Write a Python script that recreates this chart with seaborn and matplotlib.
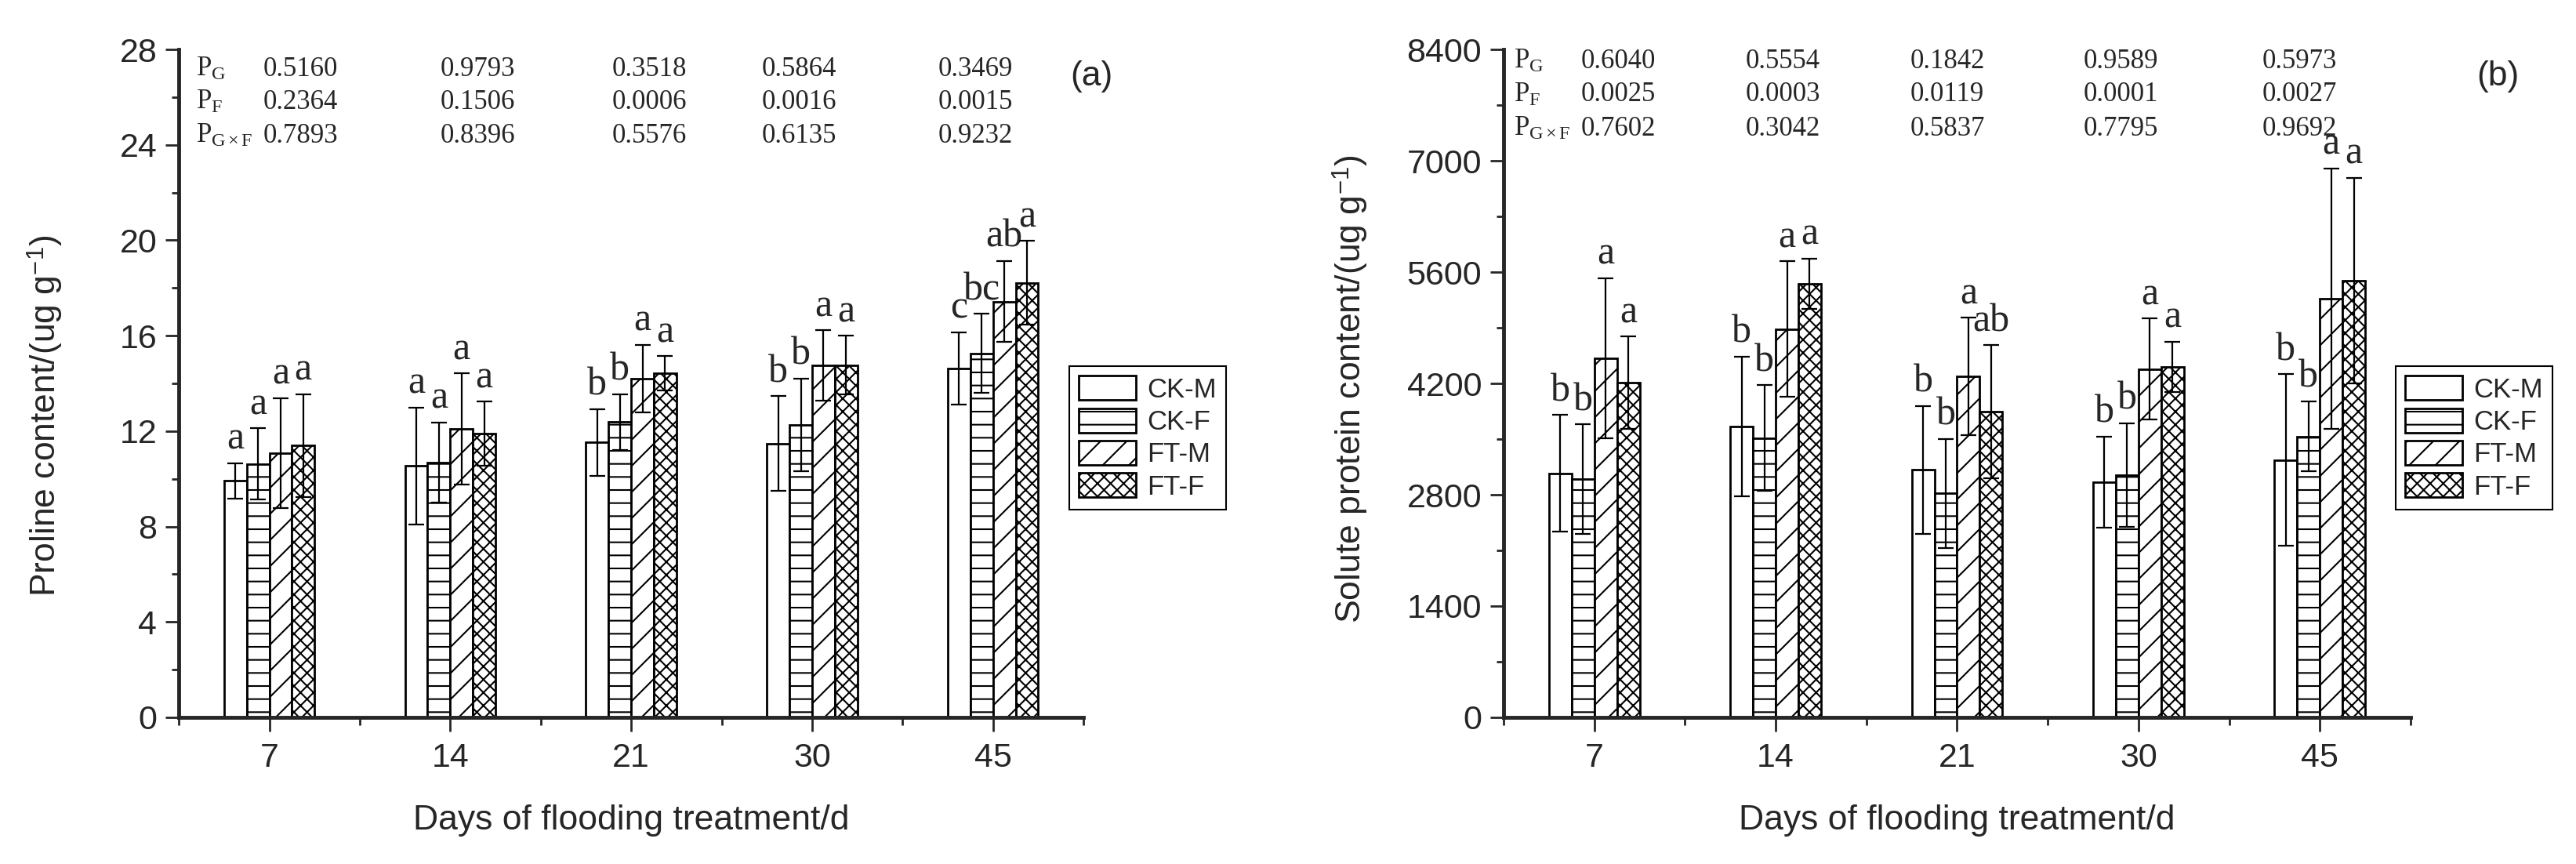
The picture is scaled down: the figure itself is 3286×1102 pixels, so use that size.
import numpy as np
import pandas as pd
import matplotlib
matplotlib.use('Agg')
import matplotlib.pyplot as plt
from matplotlib.patches import Patch
from matplotlib.ticker import MultipleLocator, FixedLocator
import seaborn as sns

# DATA

days = ['7', '14', '21', '30', '45']
groups = ['CK-M', 'CK-F', 'FT-M', 'FT-F']

# rows = groups, cols = days
proline_mean = [
    [9.91, 10.54, 11.53, 11.48, 14.63],
    [10.62, 10.69, 12.38, 12.26, 15.26],
    [11.09, 12.09, 14.21, 14.76, 17.43],
    [11.39, 11.89, 14.42, 14.77, 18.21],
]
proline_err = [
    [0.75, 2.45, 1.40, 1.98, 1.52],
    [1.50, 1.67, 1.17, 1.95, 1.66],
    [2.30, 2.33, 1.41, 1.47, 1.70],
    [2.16, 1.35, 0.73, 1.23, 1.76],
]
proline_letters = [
    ['a', 'a', 'b', 'b', 'c'],
    ['a', 'a', 'b', 'b', 'bc'],
    ['a', 'a', 'a', 'a', 'ab'],
    ['a', 'a', 'a', 'a', 'a'],
]

protein_mean = [
    [3070, 3662, 3114, 2959, 3238],
    [2995, 3512, 2818, 3048, 3534],
    [4519, 4885, 4289, 4382, 5266],
    [4209, 5451, 3847, 4408, 5495],
]
protein_err = [
    [735, 877, 804, 574, 1076],
    [690, 667, 685, 654, 441],
    [1005, 852, 738, 636, 1640],
    [580, 318, 835, 318, 1290],
]
protein_letters = [
    ['b', 'b', 'b', 'b', 'b'],
    ['b', 'b', 'b', 'b', 'b'],
    ['a', 'a', 'a', 'a', 'a'],
    ['a', 'a', 'ab', 'a', 'a'],
]

proline_pg = ['0.5160', '0.9793', '0.3518', '0.5864', '0.3469']
proline_pf = ['0.2364', '0.1506', '0.0006', '0.0016', '0.0015']
proline_pgf = ['0.7893', '0.8396', '0.5576', '0.6135', '0.9232']

protein_pg = ['0.6040', '0.5554', '0.1842', '0.9589', '0.5973']
protein_pf = ['0.0025', '0.0003', '0.0119', '0.0001', '0.0027']
protein_pgf = ['0.7602', '0.3042', '0.5837', '0.7795', '0.9692']

p_names = [r'P$_{\mathrm{G}}$', r'P$_{\mathrm{F}}$', r'P$_{\mathrm{G\times F}}$']

# STYLE

sns.set_style('ticks')
plt.rcParams['font.family'] = ['Liberation Sans', 'DejaVu Sans']
plt.rcParams['mathtext.fontset'] = 'custom'
plt.rcParams['mathtext.rm'] = 'Liberation Serif'
plt.rcParams['mathtext.sf'] = 'Liberation Sans'
plt.rcParams['mathtext.it'] = 'Liberation Serif:italic'
plt.rcParams['hatch.linewidth'] = 1.5
plt.rcParams['hatch.color'] = 'black'

hatches = ['', '-', '/', 'xx']


def draw_panel(ax, mean, err, letters, pvals, top, step, ylabel, ylabel_pos,
               p_xs, p_ys):
    rows = []
    for g, grp in enumerate(groups):
        for d, day in enumerate(days):
            rows.append((day, grp, mean[g][d]))
    df = pd.DataFrame(rows, columns=['day', 'group', 'value'])

    sns.barplot(data=df, x='day', y='value', hue='group', order=days,
                hue_order=groups, palette={g: 'white' for g in groups},
                saturation=1, edgecolor='black', linewidth=2, width=0.5,
                gap=0, errorbar=None, legend=False, ax=ax)

    bars = list(ax.containers)
    for i, cont in enumerate(bars):
        xs = []
        for b in cont:
            b.set_hatch(hatches[i])
            xs.append(b.get_x() + b.get_width() / 2)
        ax.errorbar(xs, mean[i], yerr=err[i], fmt='none', ecolor='black',
                    elinewidth=1.6, capsize=7, capthick=1.6, zorder=3)
        for x, m, e, lab in zip(xs, mean[i], err[i], letters[i]):
            ax.annotate(lab, (x, m + e), xytext=(0, 5), textcoords='offset points',
                        ha='center', va='bottom', fontfamily='Liberation Serif',
                        fontsize=36)

    # P value table
    for r in range(3):
        ax.text(p_xs[0], p_ys[r], p_names[r], transform=ax.transAxes,
                fontfamily='Liberation Serif', fontsize=25, va='baseline')
        for c in range(5):
            ax.text(p_xs[c + 1], p_ys[r], pvals[r][c], transform=ax.transAxes,
                    fontfamily='Liberation Serif', fontsize=25, va='baseline')

    ax.set_xlim(-0.5, 4.5)
    ax.set_ylim(0, top)
    ax.yaxis.set_major_locator(MultipleLocator(step))
    ax.yaxis.set_minor_locator(MultipleLocator(step / 2))
    ax.xaxis.set_minor_locator(FixedLocator(np.arange(-0.5, 5, 1)))
    sns.despine(ax=ax)
    for s in ['left', 'bottom']:
        ax.spines[s].set_linewidth(3.5)
    ax.tick_params(axis='x', which='major', length=13, width=2, labelsize=31, pad=10)
    ax.tick_params(axis='x', which='minor', length=7, width=2)
    ax.tick_params(axis='y', which='major', length=12, width=2, labelsize=31, pad=8)
    ax.tick_params(axis='y', which='minor', length=6.5, width=2)

    ax.set_xlabel('Days of flooding treatment/d', fontsize=32, labelpad=28)
    ax.set_ylabel(ylabel, fontsize=32)
    ax.yaxis.set_label_coords(*ylabel_pos)


fig = plt.figure(figsize=(32.87, 11.02), dpi=100)
ax1 = fig.add_axes([0.0694, 0.1697, 0.3511, 0.7731])
ax2 = fig.add_axes([0.5835, 0.1697, 0.3520, 0.7731])

draw_panel(ax1, proline_mean, proline_err, proline_letters,
           [proline_pg, proline_pf, proline_pgf], 28, 4,
           r'Proline content/(ug g$^{\mathsf{-1}}$)', (-0.1265, 0.452),
           [0.019, 0.093, 0.289, 0.479, 0.644, 0.839], [0.960, 0.911, 0.860])

draw_panel(ax2, protein_mean, protein_err, protein_letters,
           [protein_pg, protein_pf, protein_pgf], 8400, 1400,
           r'Solute protein content/(ug g$^{\mathsf{-1}}$)', (-0.148, 0.492),
           [0.011, 0.085, 0.267, 0.448, 0.639, 0.836], [0.972, 0.922, 0.871])

# legends
handles = [Patch(facecolor='white', edgecolor='black', hatch=h, linewidth=2, label=g)
           for g, h in zip(groups, hatches)]
for ax, x0 in [(ax1, 1364), (ax2, 3056)]:
    leg = ax.legend(handles=handles, loc='upper left',
                    bbox_to_anchor=(x0 / 3287, 1 - 467 / 1102),
                    bbox_transform=fig.transFigure, frameon=True, fancybox=False,
                    edgecolor='black', framealpha=1, fontsize=25,
                    handlelength=2.1, handleheight=1.0, labelspacing=0.2,
                    handletextpad=0.4, borderpad=0.35, borderaxespad=0)
    leg.get_frame().set_linewidth(1.5)

fig.text(1392 / 3287, 1 - 98 / 1102, '(a)', fontsize=32, ha='center', va='center')
fig.text(3186 / 3287, 1 - 98 / 1102, '(b)', fontsize=32, ha='center', va='center')

fig.savefig('out.png', dpi=100)
